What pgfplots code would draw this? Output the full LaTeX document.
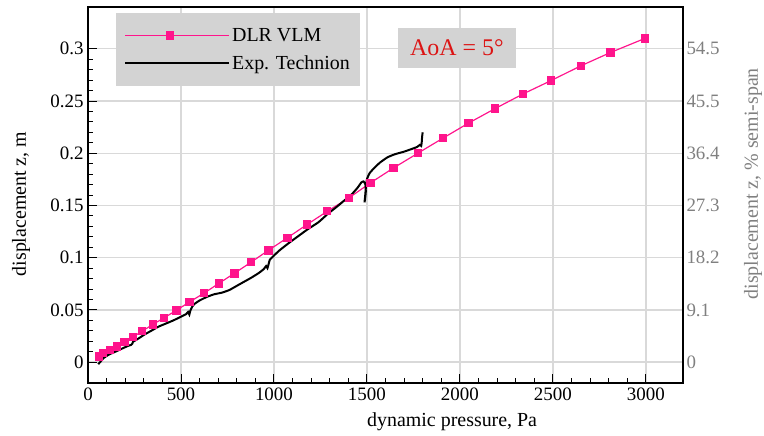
\documentclass[border=0pt]{standalone}
\usepackage{fontspec}
\setmainfont{Liberation Serif}
\usepackage{pgfplots}
\pgfplotsset{compat=1.18}
\usetikzlibrary{calc}
\definecolor{dlrpink}{RGB}{255,20,140}
\definecolor{boxgray}{RGB}{211,211,211}
\definecolor{aoared}{RGB}{220,20,20}
\definecolor{gridgray}{RGB}{217,217,217}
\definecolor{rgray}{RGB}{128,128,128}
\begin{document}
\begin{tikzpicture}
\pgfplotsset{
  myaxis/.style={
    scale only axis, width=595bp, height=376bp,
    xmin=0, xmax=3200, ymin=-0.02, ymax=0.34,
    /pgf/number format/assume math mode=true,
    /pgf/number format/1000 sep={},
    tick label style={font=\rmfamily\fontsize{19}{22}\selectfont},
  }
}
\begin{axis}[myaxis, name=ax,
  xtick={0,500,1000,1500,2000,2500,3000},
  xticklabels={0,500,1000,1500,2000,2500,3000},
  ytick={0,0.05,0.1,0.15,0.2,0.25,0.3},
  yticklabels={0,0.05,0.1,0.15,0.2,0.25,0.3},
  minor x tick num=4, minor y tick num=4,
  tick align=inside, xtick pos=bottom, ytick pos=left,
  major tick length=9bp, minor tick length=5bp,
  every tick/.style={black, line width=0.9pt},
  grid=major, major grid style={draw=gridgray, line width=1.4pt},
  axis line style={line width=1.4pt},
  xticklabel style={yshift=-1bp},
  yticklabel style={xshift=-1bp},
  xlabel={dynamic pressure, Pa},
  ylabel={displacement z, m},
  xlabel style={at={(axis description cs:0.612,-0.104)}, anchor=center, font=\rmfamily\fontsize{20}{24}\selectfont},
  ylabel style={at={(axis description cs:-0.1126,0.476)}, anchor=center, rotate=0, font=\rmfamily\fontsize{20}{24}\selectfont},
  legend cell align=left,
  legend style={at={(rel axis cs:0.047,0.984)}, anchor=north west, fill=boxgray, draw=none,
    font=\rmfamily\fontsize{20}{24}\selectfont, inner xsep=8bp, inner ysep=13bp,
    row sep=9bp},
  legend image code/.code={\draw[mark repeat=2,mark phase=2,#1] plot coordinates {(0bp,0bp) (45bp,0bp) (90bp,0bp)}; \path (0bp,0bp) -- (104bp,0bp);},
]
\addplot[dlrpink, line width=1.2pt, mark=square*, mark size=3.6bp, mark options={solid}] coordinates {
(59,0.0055)(82,0.0090)(118,0.0115)(157,0.0151)(196,0.0195)(242,0.0240)(292,0.0297)(349,0.0361)(410,0.0425)(475,0.0495)(545,0.0575)(623,0.0659)(704,0.0754)(787,0.0850)(878,0.0958)(970,0.1070)(1072,0.1190)(1177,0.1316)(1287,0.1444)(1403,0.1572)(1519,0.1716)(1644,0.1860)(1774,0.2000)(1909,0.2144)(2046,0.2288)(2190,0.2428)(2338,0.2566)(2491,0.2696)(2651,0.2837)(2811,0.2965)(2995,0.3099)
};
\addlegendentry{DLR VLM}
\addplot[black, line width=2pt, smooth, tension=0.3] coordinates {
(55,-0.002)(70,0.001)(85,0.004)(110,0.007)(135,0.009)(160,0.011)(190,0.0135)(215,0.0155)(232,0.0165)(238,0.0175)(242,0.0195)(252,0.0205)(275,0.023)(300,0.026)(340,0.030)(380,0.034)(420,0.037)(460,0.040)(500,0.0435)(528,0.046)(538,0.048)(545,0.0455)(550,0.049)(560,0.053)(575,0.056)(600,0.059)(640,0.0625)(680,0.065)(720,0.0665)(760,0.069)(800,0.073)(840,0.077)(880,0.081)(920,0.0855)(945,0.089)(958,0.092)(965,0.090)(970,0.093)(978,0.098)(1000,0.102)(1030,0.107)(1080,0.114)(1130,0.1205)(1180,0.127)(1240,0.134)(1290,0.142)(1340,0.149)(1380,0.155)(1420,0.161)(1450,0.167)(1470,0.172)(1482,0.173)(1492,0.170)(1494,0.163)(1490,0.156)(1487,0.153)(1490,0.158)(1494,0.166)(1500,0.175)(1515,0.181)(1540,0.186)(1570,0.191)(1610,0.196)(1650,0.199)(1700,0.2015)(1740,0.204)(1770,0.206)(1785,0.208)(1792,0.207)(1795,0.211)(1797,0.216)(1800,0.220)
};
\addlegendentry{Exp. Technion}
\node[fill=boxgray, text=aoared, font=\rmfamily\fontsize{24}{28}\selectfont, minimum width=118bp, minimum height=40bp, inner sep=0pt] at (rel axis cs:0.620,0.891) {AoA = 5°};
\end{axis}
\begin{axis}[myaxis,
  axis x line=none, axis y line*=right,
  ytick={0,0.05,0.1,0.15,0.2,0.25,0.3},
  yticklabels={0,9.1,18.2,27.3,36.4,45.5,54.5},
  major tick length=0pt, minor tick length=0pt,
  axis line style={line width=1.4pt},
  yticklabel style={text=rgray, xshift=0bp},
  ylabel={displacement z, \% semi-span},
  ylabel style={at={(axis description cs:1.1176,0.53)}, anchor=center, rotate=0, text=rgray, font=\rmfamily\fontsize{20}{24}\selectfont},
]
\addplot[draw=none] coordinates {(0,0)(3000,0.3)};
\end{axis}
\pgfresetboundingbox
\useasboundingbox ($(ax.south west)+(-88bp,-53bp)$) rectangle ($(ax.north east)+(81bp,7bp)$);
\end{tikzpicture}
\end{document}
